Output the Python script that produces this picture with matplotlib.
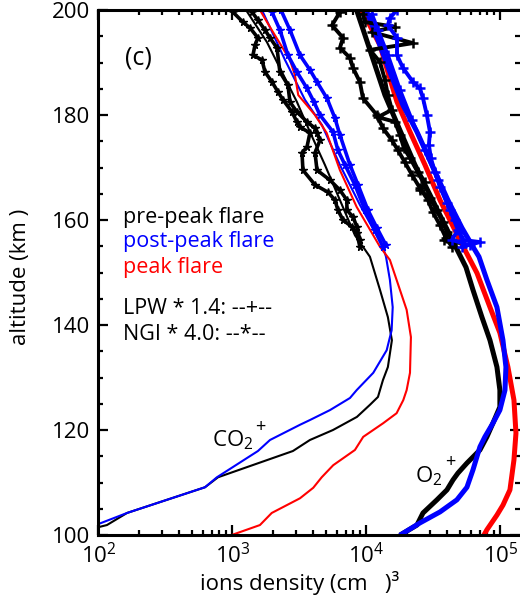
import numpy as np
import matplotlib
matplotlib.use("Agg")
import matplotlib.pyplot as plt
from matplotlib.ticker import LogLocator, MultipleLocator, NullFormatter

plt.rcParams['font.family'] = ['Open Sans', 'DejaVu Sans']
plt.rcParams['mathtext.fontset'] = 'custom'
plt.rcParams['mathtext.rm'] = 'Open Sans'
plt.rcParams['mathtext.it'] = 'Open Sans:italic'
plt.rcParams['mathtext.bf'] = 'Open Sans:bold'

# densities are kept as log10(cm^-3), altitudes in km

# --- CO2+ model (thin) ---
co2_pre_alt = [200.0, 193.9, 188.2, 182.5, 176.8, 170.5, 163.8, 157.1, 155.2, 153.0, 146.7, 141.5,
               137.1, 132.0, 129.5, 126.3, 124.8, 122.5, 120.0, 118.1, 116.0, 111.0, 109.1, 104.2,
               101.9, 101.5]
co2_pre_logn = [3.101, 3.257, 3.369, 3.481, 3.578, 3.690, 3.802, 3.914, 3.966, 4.026, 4.101, 4.160,
                4.190, 4.160, 4.123, 4.086, 4.026, 3.929, 3.750, 3.578, 3.451, 2.892, 2.795, 2.213,
                2.063, 2.000]

co2_post_alt = [200.0, 190.5, 182.9, 178.1, 170.5, 162.9, 154.9, 153.0, 148.6, 143.4, 139.0, 135.2,
                130.9, 127.6, 126.1, 123.8, 121.9, 121.0, 118.1, 116.0, 111.0, 109.1, 104.2, 102.1]
co2_post_logn = [3.220, 3.392, 3.541, 3.668, 3.802, 3.951, 4.123, 4.146, 4.175, 4.196, 4.188, 4.151,
                 4.051, 3.927, 3.877, 3.728, 3.578, 3.504, 3.280, 3.190, 2.884, 2.795, 2.213, 2.000]

co2_peak_alt = [200.0, 196.2, 190.5, 187.6, 183.8, 181.9, 180.0, 176.6, 169.5, 162.5, 154.9, 152.4,
                146.7, 142.9, 137.7, 130.9, 127.6, 125.7, 123.2, 121.3, 118.7, 116.2, 113.3, 111.0,
                109.0, 107.0, 104.2, 101.9, 100.0]
co2_peak_logn = [3.205, 3.293, 3.429, 3.466, 3.491, 3.554, 3.616, 3.703, 3.802, 3.927, 4.101, 4.175,
                 4.250, 4.300, 4.332, 4.325, 4.300, 4.275, 4.225, 4.125, 3.976, 3.914, 3.752, 3.666,
                 3.603, 3.504, 3.293, 3.205, 2.994]

# --- O2+ model (thick) ---
o2_pre_alt = [199.8, 192.4, 183.8, 177.1, 170.5, 164.8, 159.0, 155.2, 151.0, 146.7, 141.5, 137.1,
              132.0, 127.6, 124.4, 121.3, 118.7, 116.2, 113.7, 111.8, 110.5, 108.6, 106.7, 104.2,
              101.9, 100.2]
o2_pre_logn = [3.929, 4.026, 4.138, 4.250, 4.362, 4.474, 4.586, 4.660, 4.743, 4.795, 4.862, 4.922,
               4.974, 4.996, 4.996, 4.944, 4.899, 4.847, 4.750, 4.683, 4.646, 4.601, 4.526, 4.422,
               4.377, 4.265]

o2_post_alt = [199.6, 194.3, 188.2, 181.9, 176.8, 170.5, 163.8, 158.5, 154.9, 153.0, 148.6, 143.4,
               137.1, 132.0, 127.6, 123.8, 121.3, 118.7, 116.8, 112.4, 109.1, 106.7, 104.4, 102.3,
               100.2]
o2_post_logn = [4.004, 4.086, 4.175, 4.272, 4.377, 4.489, 4.608, 4.713, 4.795, 4.840, 4.899, 4.974,
                5.019, 5.041, 5.034, 4.996, 4.944, 4.884, 4.847, 4.795, 4.750, 4.675, 4.549, 4.399,
                4.265]

o2_peak_alt = [199.6, 193.3, 188.2, 182.5, 176.8, 170.5, 163.8, 158.1, 154.3, 149.9, 143.4, 138.5,
               132.0, 125.7, 119.4, 114.3, 108.6, 105.7, 103.8, 101.0, 100.0]
o2_peak_logn = [3.974, 4.101, 4.160, 4.228, 4.325, 4.437, 4.549, 4.660, 4.735, 4.825, 4.922, 4.996,
                5.056, 5.101, 5.116, 5.101, 5.071, 5.019, 4.974, 4.899, 4.877]

# --- NGI * 4.0 (CO2+ data) ---
ngi_pre1_alt = [199.6, 197.7, 196.6, 194.7, 193.3, 191.4, 190.5, 188.2, 186.3, 184.4, 182.9, 180.6,
                178.7, 177.7, 176.6, 173.9, 172.8, 169.5, 166.7, 165.3, 163.8, 161.9, 160.0, 158.7,
                157.5, 154.9]
ngi_pre1_logn = [3.004, 3.078, 3.131, 3.190, 3.168, 3.153, 3.220, 3.243, 3.295, 3.340, 3.377, 3.444,
                 3.481, 3.504, 3.578, 3.556, 3.519, 3.526, 3.616, 3.713, 3.765, 3.787, 3.825, 3.892,
                 3.929, 3.951]

ngi_pre2_alt = [199.6, 198.1, 196.2, 194.7, 192.8, 188.2, 185.7, 182.5, 180.6, 178.7, 177.5, 176.6,
                175.2, 172.8, 169.5, 167.6, 165.7, 163.8, 161.9, 160.6, 158.7, 156.2]
ngi_pre2_logn = [3.146, 3.190, 3.243, 3.280, 3.332, 3.354, 3.414, 3.429, 3.481, 3.556, 3.616, 3.631,
                 3.653, 3.616, 3.631, 3.728, 3.802, 3.854, 3.854, 3.899, 3.929, 3.951]

ngi_post1_alt = [199.6, 196.2, 191.4, 188.2, 185.1, 182.5, 180.0, 176.8, 173.3, 170.5, 166.7, 161.9,
                 158.1, 154.9]
ngi_post1_logn = [3.295, 3.354, 3.414, 3.481, 3.556, 3.608, 3.653, 3.750, 3.787, 3.840, 3.914, 3.989,
                  4.063, 4.123]

ngi_post2_alt = [200.0, 196.2, 191.4, 188.6, 186.3, 183.2, 179.4, 176.2, 170.5, 166.7, 161.9, 158.5,
                 155.2]
ngi_post2_logn = [3.362, 3.429, 3.504, 3.578, 3.631, 3.705, 3.765, 3.802, 3.877, 3.937, 4.011, 4.078,
                  4.146]

# --- LPW * 1.4 (O2+ data) ---
lpw_pre1_alt = [199.6, 197.1, 194.7, 192.8, 190.9, 189.0, 186.3, 183.2, 180.0, 177.5, 175.2, 173.3,
                171.0, 168.6, 166.1, 163.8, 161.5, 159.0, 156.6, 154.9]
lpw_pre1_logn = [3.802, 3.743, 3.825, 3.802, 3.877, 3.899, 3.951, 3.974, 4.078, 4.123, 4.190, 4.235,
                 4.287, 4.340, 4.399, 4.459, 4.496, 4.549, 4.593, 4.638]

lpw_pre2_alt = [199.2, 197.7, 196.8, 195.8, 193.7, 192.4, 190.1, 186.7, 183.8, 181.0, 179.6, 178.7,
                176.2, 173.7, 171.8, 169.1, 167.2, 165.7, 164.2, 161.9, 159.6, 157.7, 156.2, 155.6]
lpw_pre2_logn = [3.974, 3.989, 4.213, 4.041, 4.347, 4.026, 4.101, 4.138, 4.160, 4.190, 4.086, 4.213,
                 4.250, 4.280, 4.325, 4.384, 4.437, 4.399, 4.474, 4.526, 4.571, 4.601, 4.578, 4.660]

lpw_post1_alt = [200.0, 198.5, 197.1, 194.7, 191.4, 189.0, 186.3, 185.1, 183.2, 180.0, 176.8, 174.3,
                 171.8, 169.1, 166.3, 163.2, 160.0, 157.5, 156.2, 155.8, 154.9]
lpw_post1_logn = [4.228, 4.175, 4.160, 4.228, 4.228, 4.272, 4.347, 4.399, 4.422, 4.451, 4.474, 4.466,
                  4.481, 4.511, 4.549, 4.601, 4.660, 4.698, 4.720, 4.847, 4.713]

lpw_post2_alt = [199.2, 196.2, 191.4, 184.8, 179.0, 173.3, 167.6, 161.9, 158.1, 156.2, 155.2]
lpw_post2_logn = [4.041, 4.086, 4.160, 4.250, 4.340, 4.437, 4.534, 4.623, 4.683, 4.638, 4.772]


def dens(v):
    return 10 ** np.asarray(v)


blue = '#0000ff'
red = '#ff0000'

fig = plt.figure(figsize=(5.2, 6.04), dpi=100)
ax = fig.add_axes([0.1894, 0.1142, 0.8106, 0.8692])

# models
ax.plot(dens(co2_pre_logn), co2_pre_alt, color='k', lw=1.5)
ax.plot(dens(co2_post_logn), co2_post_alt, color=blue, lw=1.5)
ax.plot(dens(co2_peak_logn), co2_peak_alt, color=red, lw=1.5)
ax.plot(dens(o2_pre_logn), o2_pre_alt, color='k', lw=3.6)
ax.plot(dens(o2_peak_logn), o2_peak_alt, color=red, lw=3.6)
ax.plot(dens(o2_post_logn), o2_post_alt, color=blue, lw=3.6)

# data
for x, y, c in [(ngi_pre1_logn, ngi_pre1_alt, 'k'), (ngi_pre2_logn, ngi_pre2_alt, 'k'),
                (ngi_post1_logn, ngi_post1_alt, blue), (ngi_post2_logn, ngi_post2_alt, blue)]:
    ax.plot(dens(x), y, color=c, lw=2.6, marker='*', ms=5.5, mew=1.0)
for x, y, c in [(lpw_pre1_logn, lpw_pre1_alt, 'k'), (lpw_pre2_logn, lpw_pre2_alt, 'k'),
                (lpw_post1_logn, lpw_post1_alt, blue), (lpw_post2_logn, lpw_post2_alt, blue)]:
    ax.plot(dens(x), y, color=c, lw=2.8, marker='+', ms=7, mew=1.8)

ax.set_xscale('log')
ax.set_xlim(100, 1.4e5)
ax.set_ylim(100, 200)

ax.xaxis.set_major_locator(LogLocator(base=10, numticks=10))
ax.xaxis.set_minor_locator(LogLocator(base=10, subs=np.arange(2, 10), numticks=20))
ax.xaxis.set_minor_formatter(NullFormatter())
ax.yaxis.set_major_locator(MultipleLocator(20))
ax.yaxis.set_minor_locator(MultipleLocator(5))

ax.tick_params(which='both', direction='in', top=True, right=True, labelsize=16, width=1.6)
ax.tick_params(which='major', length=7.5, pad=6)
ax.tick_params(which='minor', length=3.8)
for s in ['left', 'bottom', 'top']:
    ax.spines[s].set_linewidth(2.2)
ax.spines['right'].set_visible(False)

# labels
ax.text(0.063, 0.9095, '(c)', transform=ax.transAxes, fontsize=18, va='center')
ax.text(0.059, 0.5943, 'pre-peak flare', transform=ax.transAxes, fontsize=15.5, color='k')
ax.text(0.059, 0.5486, 'post-peak flare', transform=ax.transAxes, fontsize=15.5, color=blue)
ax.text(0.059, 0.4990, 'peak flare', transform=ax.transAxes, fontsize=15.5, color=red)
ax.text(0.059, 0.4210, 'LPW * 1.4: --+--', transform=ax.transAxes, fontsize=15.5)
ax.text(0.059, 0.3714, 'NGI * 4.0: --*--', transform=ax.transAxes, fontsize=15.5)

ax.text(0.2686, 0.168, 'CO$_2$', transform=ax.transAxes, fontsize=16)
ax.text(0.383, 0.206, '+', transform=ax.transAxes, fontsize=13, ha='center', va='center')
ax.text(0.751, 0.101, 'O$_2$', transform=ax.transAxes, fontsize=16)
ax.text(0.834, 0.139, '+', transform=ax.transAxes, fontsize=13, ha='center', va='center')

fig.text(0.0385, 0.5414, 'altitude (km )', rotation=90, ha='center', va='center', fontsize=16)
fig.text(0.577, 0.023, 'ions density (cm   )³', ha='center', va='baseline', fontsize=16)

fig.savefig('out.png', dpi=100)
